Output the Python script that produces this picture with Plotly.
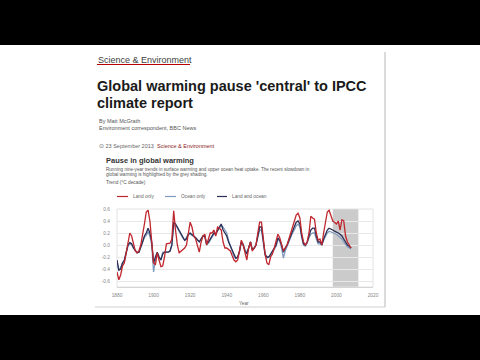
import plotly.graph_objects as go

# ---------------- data ----------------
years = list(range(1880, 2009))

land_only = [
    -0.45, -0.58, -0.50, -0.35, -0.30, -0.15, 0.05, 0.20, 0.15, 0.00,
    -0.10, -0.13, -0.10, 0.00, 0.15, 0.35, 0.55, 0.58, 0.40, 0.10,
    -0.30, -0.33, -0.13, -0.25, -0.36, -0.35, -0.20, 0.02, 0.03, 0.03,
    0.10, 0.57, 0.25, 0.00, -0.13, -0.10, -0.07, -0.05, 0.00, 0.20,
    0.38, 0.30, 0.15, 0.10, 0.00, -0.12, 0.05, 0.15, 0.18, 0.00,
    0.10, 0.20, 0.20, 0.25, 0.15, 0.30, 0.28, 0.25, 0.05, -0.05,
    -0.05, -0.08, -0.10, -0.18, -0.25, -0.28, -0.25, -0.10, 0.08, 0.00,
    -0.15, -0.25, -0.05, 0.05, -0.10, -0.05, 0.00, 0.20, 0.38, 0.38,
    0.10, -0.15, -0.30, -0.33, -0.20, -0.15, -0.05, 0.05, 0.18, 0.12,
    0.00, -0.10, -0.05, 0.00, 0.10, 0.20, 0.30, 0.38, 0.50, 0.53,
    0.45, 0.20, 0.05, 0.00, 0.05, 0.20, 0.48, 0.45, 0.43, 0.20,
    0.08, 0.10, 0.00, 0.20, 0.35, 0.55, 0.58, 0.50, 0.40, 0.38,
    0.35, 0.40, 0.25, 0.42, 0.40, 0.15, 0.05, 0.00, -0.05,
]

ocean_only = [
    -0.30, -0.42, -0.38, -0.30, -0.28, -0.12, -0.02, 0.03, 0.00, -0.05,
    -0.10, -0.13, -0.12, -0.05, 0.05, 0.13, 0.16, 0.22, 0.15, 0.00,
    -0.45, -0.25, -0.13, -0.20, -0.25, -0.12, -0.12, -0.13, -0.12, -0.10,
    0.00, 0.32, 0.33, 0.28, 0.22, 0.18, 0.12, 0.08, 0.12, 0.18,
    0.18, 0.16, 0.14, 0.12, 0.08, 0.06, 0.10, 0.15, 0.14, 0.00,
    0.03, 0.08, 0.12, 0.18, 0.20, 0.25, 0.28, 0.32, 0.30, 0.25,
    0.20, 0.08, 0.00, -0.10, -0.20, -0.22, -0.20, -0.12, 0.05, 0.02,
    -0.08, -0.12, -0.05, 0.05, -0.08, -0.06, 0.00, 0.12, 0.25, 0.25,
    0.00, -0.18, -0.22, -0.20, -0.18, -0.12, -0.08, -0.02, 0.10, 0.06,
    -0.05, -0.22, -0.10, -0.02, 0.05, 0.12, 0.20, 0.25, 0.32, 0.35,
    0.30, 0.12, 0.00, -0.02, 0.03, 0.12, 0.18, 0.20, 0.20, 0.10,
    0.02, 0.02, 0.00, 0.08, 0.15, 0.20, 0.23, 0.22, 0.21, 0.20,
    0.18, 0.15, 0.12, 0.10, 0.05, 0.00, -0.03, -0.05, -0.06,
]

land_and_ocean = [
    -0.25, -0.42, -0.40, -0.30, -0.25, -0.10, 0.00, 0.04, 0.02, -0.05,
    -0.10, -0.13, -0.12, -0.05, 0.05, 0.15, 0.20, 0.28, 0.20, 0.05,
    -0.30, -0.20, -0.12, -0.20, -0.25, -0.15, -0.12, -0.12, -0.12, -0.10,
    0.00, 0.38, 0.35, 0.30, 0.25, 0.20, 0.15, 0.08, 0.10, 0.18,
    0.20, 0.18, 0.15, 0.12, 0.08, 0.05, 0.10, 0.15, 0.15, 0.02,
    0.05, 0.10, 0.15, 0.20, 0.18, 0.25, 0.30, 0.35, 0.25, 0.20,
    0.15, 0.05, -0.02, -0.10, -0.18, -0.22, -0.20, -0.10, 0.05, 0.00,
    -0.10, -0.15, -0.05, 0.05, -0.08, -0.05, 0.00, 0.15, 0.30, 0.30,
    0.05, -0.15, -0.20, -0.20, -0.15, -0.10, -0.05, 0.00, 0.12, 0.08,
    0.00, -0.12, -0.05, 0.00, 0.08, 0.15, 0.25, 0.30, 0.38, 0.40,
    0.35, 0.15, 0.02, 0.00, 0.05, 0.15, 0.25, 0.28, 0.28, 0.15,
    0.05, 0.05, 0.00, 0.10, 0.18, 0.25, 0.28, 0.27, 0.25, 0.23,
    0.22, 0.20, 0.18, 0.15, 0.10, 0.05, 0.00, -0.02, -0.05,
]

x_ticks = [1880, 1900, 1920, 1940, 1960, 1980, 2000, 2020]
y_ticks = [-0.6, -0.4, -0.2, 0.0, 0.2, 0.4, 0.6]
y_tick_labels = ["-0.6", "-0.4", "-0.2", "0.0", "0.2", "0.4", "0.6"]
pause_start, pause_end = 1998, 2012

series_names = ["Ocean only", "Land and ocean", "Land only"]
series_colors = ["#7e9bbd", "#2b2e55", "#c0262e"]

# ---------------- layout helpers (pixel -> paper) ----------------
W, H = 480, 360
L, R, T, B = 117, 373, 209, 287


def px(x):
    return (x - L) / (R - L)


def py(y):
    return (B - y) / (B - T)


FONT = "Liberation Sans, Arial, sans-serif"

fig = go.Figure()
for name, vals, col in zip(series_names, [ocean_only, land_and_ocean, land_only], series_colors):
    fig.add_trace(go.Scatter(x=years, y=vals, mode="lines", name=name,
                             line=dict(color=col, width=1.3), showlegend=False))

shapes = []
# grey shading for recent slowdown
shapes.append(dict(type="rect", xref="x", yref="paper", x0=pause_start, x1=pause_end,
                   y0=0, y1=1, fillcolor="#cbcbcb", line=dict(width=0), layer="below"))
# plot frame
shapes.append(dict(type="rect", xref="paper", yref="paper", x0=0, x1=1, y0=0, y1=1,
                   line=dict(color="#e2e2e2", width=1), layer="below"))
# page separators
shapes.append(dict(type="line", xref="paper", yref="paper", x0=px(385), x1=px(385),
                   y0=py(52), y1=py(307), line=dict(color="#cfcfcf", width=1.5)))
shapes.append(dict(type="line", xref="paper", yref="paper", x0=px(95), x1=px(385),
                   y0=py(307), y1=py(307), line=dict(color="#cfcfcf", width=1)))
# section underline
shapes.append(dict(type="line", xref="paper", yref="paper", x0=px(97), x1=px(190),
                   y0=py(64.5), y1=py(64.5), line=dict(color="#b80000", width=1.2)))
# legend line samples
for (x0, x1), col in zip([(165, 176), (217, 227), (117, 128)], series_colors):
    shapes.append(dict(type="line", xref="paper", yref="paper", x0=px(x0), x1=px(x1),
                       y0=py(196.5), y1=py(196.5), line=dict(color=col, width=1.2)))
# black letterbox bands
shapes.append(dict(type="rect", xref="paper", yref="paper", x0=px(-2), x1=px(482),
                   y0=py(-2), y1=py(45), fillcolor="black", line=dict(width=0), layer="above"))
shapes.append(dict(type="rect", xref="paper", yref="paper", x0=px(-2), x1=px(482),
                   y0=py(315), y1=py(362), fillcolor="black", line=dict(width=0), layer="above"))

ann = []


def text(x, y, s, size, color="#333", bold=False, anchor="left"):
    if bold:
        s = "<b>" + s + "</b>"
    ann.append(dict(xref="paper", yref="paper", x=px(x), y=py(y), text=s, showarrow=False,
                    xanchor=anchor, yanchor="middle", font=dict(family=FONT, size=size, color=color)))


text(96, 59.5, "Science &amp; Environment", 9, "#404040")
text(95, 86, "Global warming pause 'central' to IPCC", 14.5, "#1a1a1a", bold=True)
text(95, 103, "climate report", 14.5, "#1a1a1a", bold=True)
text(96.5, 121, "By Matt McGrath", 5.5, "#555")
text(96.5, 127.5, "Environment correspondent, BBC News", 5.5, "#555")
text(96.5, 146, "⊙ 23 September 2013", 5.5, "#666")
text(150, 146, "|", 5.5, "#bbb")
text(155, 146, "Science &amp; Environment", 5.5, "#8a1a1a")
text(104, 160.5, "Pause in global warming", 7.5, "#333", bold=True)
text(104, 169.5, "Running nine-year trends in surface warming and upper ocean heat uptake. The recent slowdown in", 4.6, "#555")
text(104, 174.5, "global warming is highlighted by the grey shading.", 4.6, "#555")
text(104, 182.5, "Trend (°C decade)", 4.8, "#555")
text(130.5, 196.5, "Land only", 4.8, "#666")
text(179, 196.5, "Ocean only", 4.8, "#666")
text(229.5, 196.5, "Land and ocean", 4.8, "#666")
text(244, 303, "Year", 4.8, "#666", anchor="center")

fig.update_layout(
    width=W, height=H, autosize=False,
    margin=dict(l=L, r=W - R, t=T, b=H - B, pad=0),
    paper_bgcolor="white", plot_bgcolor="white",
    shapes=shapes, annotations=ann, showlegend=False,
    xaxis=dict(range=[1880, 2020], tickvals=x_ticks, showgrid=False, zeroline=False,
               showline=True, linecolor="#d5d5d5", linewidth=1,
               tickfont=dict(family=FONT, size=4.8, color="#888"), ticks="",
               ticklabelstandoff=3),
    yaxis=dict(range=[-0.7, 0.6], tickvals=y_ticks, ticktext=y_tick_labels, showgrid=True,
               gridcolor="#e8e8e8", gridwidth=1, zeroline=False, showline=False,
               tickfont=dict(family=FONT, size=4.8, color="#888"), ticks="",
               ticklabelstandoff=6),
)

fig.write_html("out.html", config={"displayModeBar": False},
               post_script="document.body.style.margin='0';document.body.style.overflow='hidden';")
